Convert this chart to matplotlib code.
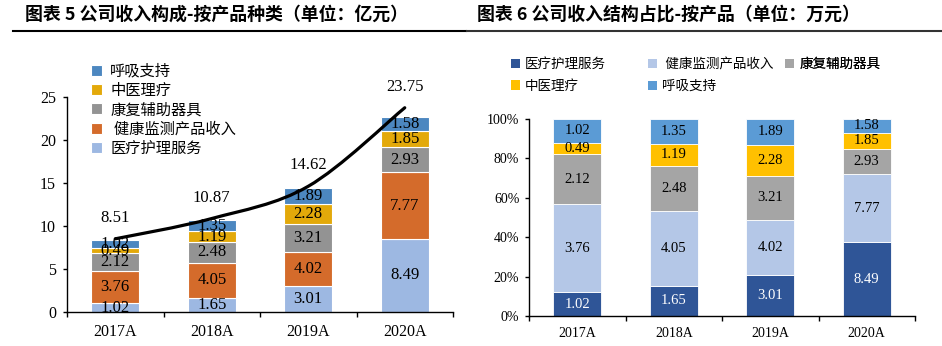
import numpy as np
import matplotlib
matplotlib.use('Agg')
import matplotlib.pyplot as plt
from matplotlib.path import Path
from matplotlib.patches import PathPatch, Patch
from matplotlib.lines import Line2D
from matplotlib.ticker import FuncFormatter

plt.rcParams['font.family'] = ['Liberation Serif', 'Noto Sans CJK SC']

years = ['2017A', '2018A', '2019A', '2020A']
names = ['医疗护理服务', ' 健康监测产品收入', '康复辅助器具', '中医理疗', '呼吸支持']
care = [1.02, 1.65, 3.01, 8.49]
monitor = [3.76, 4.05, 4.02, 7.77]
rehab = [2.12, 2.48, 3.21, 2.93]
tcm = [0.49, 1.19, 2.28, 1.85]
resp = [1.02, 1.35, 1.89, 1.58]
totals = [8.51, 10.87, 14.62, 23.75]

series = [care, monitor, rehab, tcm, resp]
colors_l = ['#9DB8E2', '#D46B2B', '#939393', '#E3A90A', '#4C87C0']
colors_r = ['#2F5597', '#B4C7E7', '#A5A5A5', '#FFC000', '#5B9BD5']

W, H = 942, 346
fig = plt.figure(figsize=(W / 100, H / 100), dpi=100)


def px_axes(x0, y0, x1, y1):
    # pixel box (top-left origin) -> figure axes
    return fig.add_axes([x0 / W, 1 - y1 / H, (x1 - x0) / W, (y1 - y0) / H])


def smooth_path(xs, ys):
    pts = np.column_stack([xs, ys]).astype(float)
    n = len(pts)
    verts = [pts[0]]
    codes = [Path.MOVETO]
    for i in range(n - 1):
        p0 = pts[max(i - 1, 0)]
        p1 = pts[i]
        p2 = pts[i + 1]
        p3 = pts[min(i + 2, n - 1)]
        verts += [p1 + (p2 - p0) / 6, p2 - (p3 - p1) / 6, p2]
        codes += [Path.CURVE4] * 3
    return Path(verts, codes)


def style_axes(ax, fs, xpad, ypad):
    for s in ['top', 'right']:
        ax.spines[s].set_visible(False)
    for s in ['left', 'bottom']:
        ax.spines[s].set_linewidth(1.0)
        ax.spines[s].set_color('black')
    x = np.arange(len(years))
    ax.set_xlim(-0.5, len(years) - 0.5)
    ax.set_xticks(x)
    ax.set_xticklabels(years, fontsize=fs)
    ax.set_xticks(np.arange(len(years) + 1) - 0.5, minor=True)
    ax.tick_params(axis='x', which='major', length=0, pad=xpad)
    ax.tick_params(axis='x', which='minor', length=3.5, width=1, direction='out')
    ax.tick_params(axis='y', length=3, width=1, direction='out', pad=ypad, labelsize=fs)


x = np.arange(len(years))

# ---- left: stacked values + total curve
axl = px_axes(67, 97, 453, 312)
bottom = np.zeros(len(years))
for vals, c, nm in zip(series, colors_l, names):
    vals = np.array(vals)
    axl.bar(x, vals, 0.5, bottom=bottom, color=c, edgecolor='white', linewidth=0.8, label=nm)
    for xi, b, v in zip(x, bottom, vals):
        axl.text(xi, b + v / 2, f'{v:.2f}', ha='center', va='center', fontsize=12, color='black')
    bottom += vals

axl.add_patch(PathPatch(smooth_path(x, totals), fill=False, lw=2.3, edgecolor='black',
                        capstyle='round', zorder=5))
for xi, t in zip(x, totals):
    axl.annotate(f'{t:.2f}', (xi, t), xytext=(0, 15), textcoords='offset points',
                 ha='center', va='center', fontsize=12)

axl.set_ylim(0, 25)
axl.set_yticks(np.arange(0, 26, 5))
style_axes(axl, 11.5, 9, 5)

hl, ll = axl.get_legend_handles_labels()
axl.legend(hl[::-1], ll[::-1], loc='upper left', bbox_to_anchor=(91 / W, 1 - 64 / H),
           bbox_transform=fig.transFigure, frameon=False, fontsize=11, borderpad=0,
           borderaxespad=0, handlelength=0.75, handleheight=0.75, handletextpad=0.5,
           labelspacing=0.33)

# ---- right: share of each product
axr = px_axes(529, 119, 915, 316)
tot = np.sum(series, axis=0)
bottom = np.zeros(len(years))
handles = []
for vals, c, nm in zip(series, colors_r, names):
    vals = np.array(vals)
    share = vals / tot
    axr.bar(x, share, 0.5, bottom=bottom, color=c, edgecolor='white', linewidth=0.6)
    tc = 'white' if c == colors_r[0] else 'black'
    for xi, b, s, v in zip(x, bottom, share, vals):
        axr.text(xi, b + s / 2, f'{v:.2f}', ha='center', va='center', fontsize=10.5, color=tc)
    bottom += share
    handles.append(Patch(facecolor=c, label=nm))

axr.set_ylim(0, 1)
axr.set_yticks(np.linspace(0, 1, 6))
axr.yaxis.set_major_formatter(FuncFormatter(lambda v, _: f'{v:.0%}'))
style_axes(axr, 10, 8, 4)

# legend laid out in three fixed-width columns
for cx, idx in zip([511, 648, 785], [[0, 3], [1, 4], [2]]):
    lg = axr.legend([handles[i] for i in idx], [names[i] for i in idx], loc='upper left',
                    bbox_to_anchor=(cx / W, 1 - 58 / H), bbox_transform=fig.transFigure,
                    frameon=False, fontsize=9.75, borderpad=0, borderaxespad=0,
                    handlelength=0.7, handleheight=0.7, handletextpad=0.35, labelspacing=0.66)
    axr.add_artist(lg)

# ---- titles
fig.text(25 / W, 1 - 15 / H, '图表 5 公司收入构成-按产品种类（单位：亿元）', family=['Noto Sans CJK SC'],
         fontweight='bold', fontsize=12.9, ha='left', va='center')
fig.text(477 / W, 1 - 15 / H, '图表 6 公司收入结构占比-按产品（单位：万元）', family=['Noto Sans CJK SC'],
         fontweight='bold', fontsize=12.9, ha='left', va='center')
fig.add_artist(Line2D([13 / W, 466 / W], [1 - 31 / H] * 2, color='black', lw=1.5))
fig.add_artist(Line2D([467 / W, 1.0], [1 - 31 / H] * 2, color='#333333', lw=1.5))

fig.savefig('out.png', dpi=100)
